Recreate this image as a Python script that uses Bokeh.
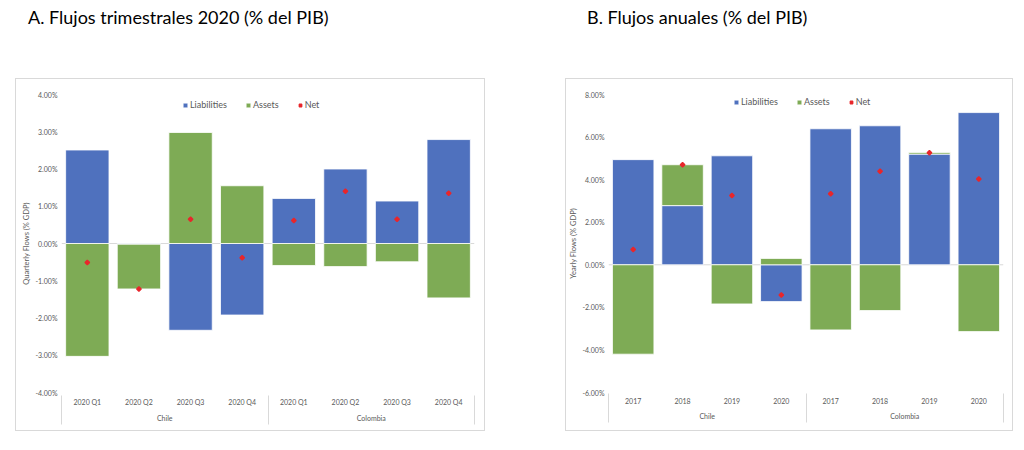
import numpy as np
from bokeh.plotting import figure
from bokeh.models import (FactorRange, Range1d, ColumnDataSource, PrintfTickFormatter,
                          FixedTicker, Span, Legend, LegendItem, LinearAxis, Div)
from bokeh.layouts import row, column
from bokeh.embed import file_html
from bokeh.resources import INLINE

# ---------------- data ----------------
countries = ["Chile", "Colombia"]
quarters = ["2020 Q1", "2020 Q2", "2020 Q3", "2020 Q4"]
years = ["2017", "2018", "2019", "2020"]

q_liabilities = [2.51, -0.02, -2.33, -1.92, 1.21, 2.00, 1.14, 2.79]
q_assets = [-3.03, -1.20, 2.98, 1.55, -0.59, -0.62, -0.49, -1.46]
q_net = [-0.51, -1.22, 0.65, -0.38, 0.62, 1.40, 0.65, 1.35]

y_liabilities = [4.94, 2.78, 5.12, -1.73, 6.39, 6.53, 5.20, 7.15]
y_assets = [-4.20, 1.92, -1.84, 0.30, -3.06, -2.15, 0.08, -3.14]
y_net = [0.72, 4.70, 3.26, -1.42, 3.34, 4.39, 5.26, 4.03]

q_ticks = [-4, -3, -2, -1, 0, 1, 2, 3, 4]
y_ticks = [-6, -4, -2, 0, 2, 4, 6, 8]

# ---------------- style ----------------
FONT = "Lato"
BLUE = "#4F71BE"
GREEN = "#7EAB55"
RED = "#E8262B"
GRAY_TXT = "#595959"
GRID = "#d9d9d9"


def make_panel(periods, liab, assets, net, ylabel, yticks, width, height,
               border_left, border_right, legend_loc, margin_left):
    factors = [(c, per) for c in countries for per in periods]
    L = np.array(liab)
    A = np.array(assets)
    same = np.sign(L) == np.sign(A)
    a_bottom = np.where(same, L, 0.0)
    a_top = a_bottom + A
    src = ColumnDataSource(dict(x=factors, l_top=L, a_bottom=a_bottom,
                                a_top=a_top, net=np.array(net)))

    p = figure(width=width, height=height, output_backend="svg", toolbar_location=None,
               x_range=FactorRange(*factors, factor_padding=0, group_padding=0,
                                   range_padding=0),
               y_range=Range1d(min(yticks), max(yticks)),
               min_border_left=border_left, min_border_right=border_right,
               min_border_top=15, min_border_bottom=40,
               margin=(0, 0, 0, margin_left),
               styles={"border": "1px solid #d9d9d9", "box-sizing": "border-box"})
    p.outline_line_color = None
    p.xgrid.visible = False
    p.ygrid.visible = False
    p.background_fill_color = None
    p.border_fill_color = "white"

    p.add_layout(Span(location=0, dimension="width", line_color=GRID,
                      line_width=1, level="underlay"))

    rl = p.vbar(x="x", top="l_top", bottom=0, width=0.84, source=src,
                fill_color=BLUE, line_color="white", line_width=0.8)
    ra = p.vbar(x="x", top="a_top", bottom="a_bottom", width=0.84, source=src,
                fill_color=GREEN, line_color="white", line_width=0.8)
    rn = p.scatter(x="x", y="net", source=src, marker="square", angle=np.pi / 4,
                   size=3.2, fill_color=RED, line_color=RED, line_width=1.4)

    legend = Legend(items=[LegendItem(label="Liabilities", renderers=[rl]),
                           LegendItem(label="Assets", renderers=[ra]),
                           LegendItem(label="Net", renderers=[rn])],
                    location=legend_loc, orientation="horizontal",
                    glyph_width=6, glyph_height=6, label_standoff=2, spacing=18,
                    padding=0, margin=0, border_line_color=None,
                    background_fill_alpha=0, label_text_font=FONT,
                    label_text_font_size="9px", label_text_color=GRAY_TXT,
                    label_height=9, label_width=0)
    p.add_layout(legend)

    ya = p.yaxis[0]
    ya.ticker = FixedTicker(ticks=yticks)
    ya.formatter = PrintfTickFormatter(format="%.2f%%")
    ya.axis_line_color = None
    ya.major_tick_line_color = None
    ya.minor_tick_line_color = None
    ya.major_tick_out = 0
    ya.major_tick_in = 0
    ya.minor_tick_out = 0
    ya.minor_tick_in = 0
    ya.major_label_standoff = 4
    ya.major_label_text_font = FONT
    ya.major_label_text_font_size = "7px"
    ya.major_label_text_color = GRAY_TXT
    ya.axis_label = ylabel
    ya.axis_label_text_font = FONT
    ya.axis_label_text_font_size = "7.5px"
    ya.axis_label_text_font_style = "normal"
    ya.axis_label_text_color = GRAY_TXT
    ya.axis_label_standoff = 1

    xa = p.xaxis[0]
    xa.axis_line_color = None
    xa.major_tick_line_color = None
    xa.minor_tick_line_color = None
    xa.major_tick_out = 0
    xa.major_tick_in = 0
    xa.minor_tick_out = 0
    xa.minor_tick_in = 0
    xa.major_label_standoff = 5
    xa.major_label_text_font = FONT
    xa.major_label_text_font_size = "7px"
    xa.major_label_text_color = GRAY_TXT
    xa.group_text_font = FONT
    xa.group_text_font_size = "7px"
    xa.group_text_color = GRAY_TXT
    xa.group_text_font_style = "normal"
    xa.separator_line_color = None

    # group separators of the category axis (inward ticks of a label-less axis
    # placed on the synthetic coordinates of the factor range)
    sep = LinearAxis(ticker=FixedTicker(ticks=[0, len(periods), len(factors)]),
                     axis_line_color=None, major_tick_line_color=GRID,
                     major_tick_line_width=1, major_tick_in=29, major_tick_out=0,
                     minor_tick_line_color=None, minor_tick_out=0, minor_tick_in=0,
                     major_label_text_font_size="0px",
                     major_label_standoff=0, major_label_text_color=None)
    p.add_layout(sep, "below")
    return p


title_style = {"font-family": FONT, "font-size": "18px", "color": "black",
               "line-height": "20px", "white-space": "nowrap"}
d1 = Div(text="A. Flujos trimestrales 2020 (% del PIB)", width=380, height=71,
         margin=(7, 0, 0, 28), styles=title_style)
d2 = Div(text="B. Flujos anuales (% del PIB)", width=320, height=71,
         margin=(7, 0, 0, 102), styles=title_style)

p1 = make_panel(quarters, q_liabilities, q_assets, q_net, "Quarterly Flows (% GDP)",
                q_ticks, 470, 353, 45, 12, (121, 282), 15)
p2 = make_panel(years, y_liabilities, y_assets, y_net, "Yearly Flows (% GDP)",
                y_ticks, 448, 353, 42, 11, (125, 285), 80)

layout = row(column(d1, p1), column(d2, p2))
open("out.html", "w").write(file_html(layout, INLINE))
